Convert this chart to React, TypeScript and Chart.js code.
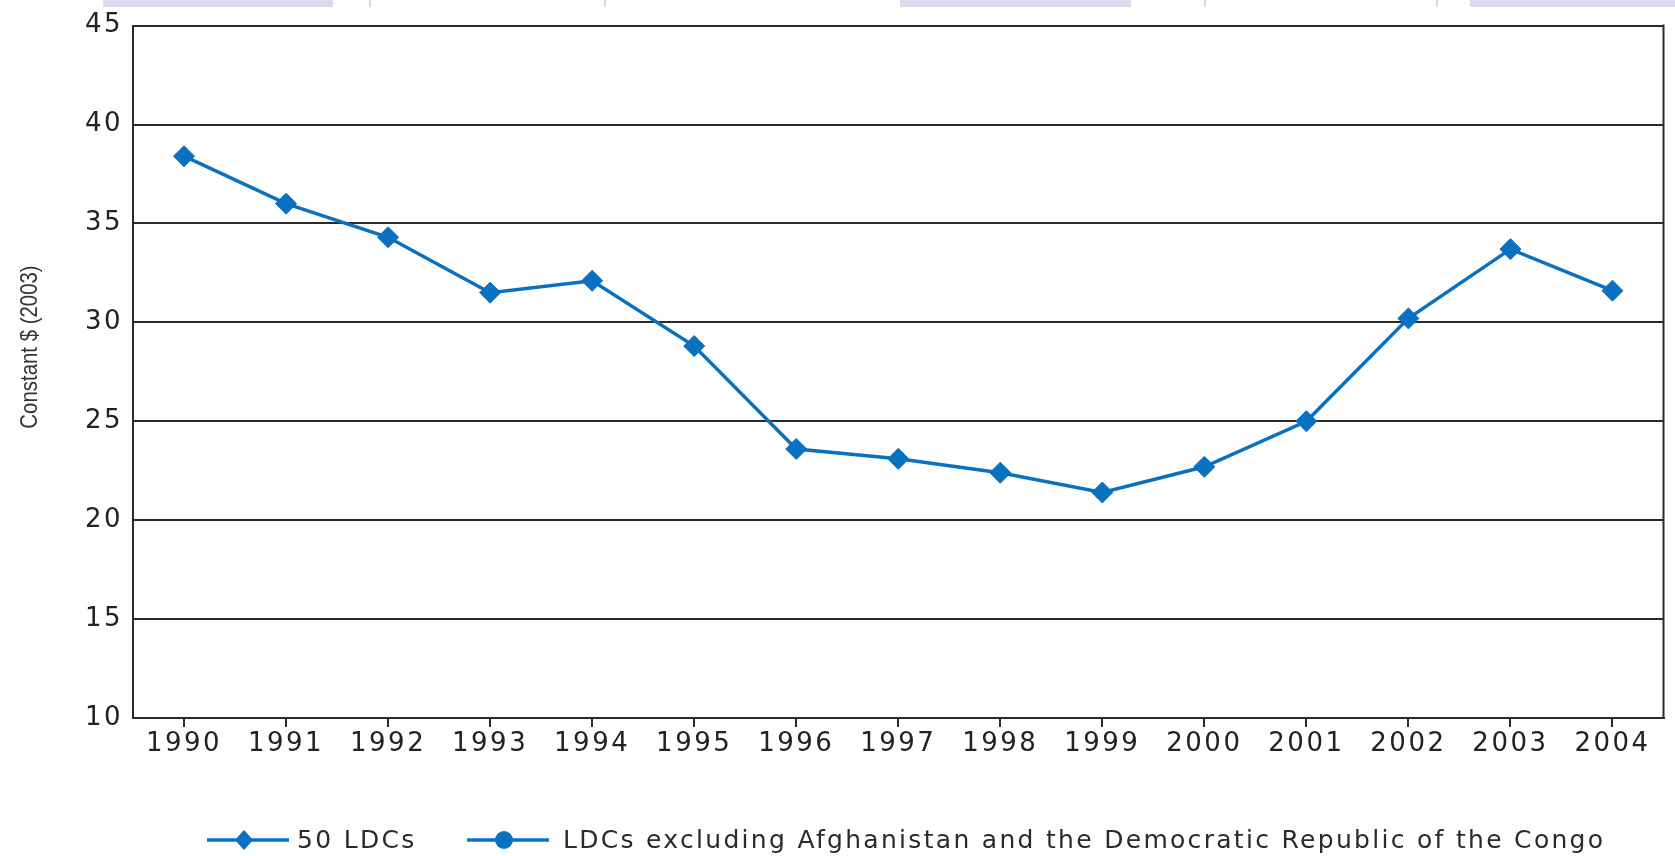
import React, { useEffect, useRef } from "react";
import { Chart, registerables } from "chart.js";

Chart.register(...registerables);

const years = ["1990", "1991", "1992", "1993", "1994", "1995", "1996", "1997", "1998", "1999", "2000", "2001", "2002", "2003", "2004"];
const ldc50 = [38.4, 36.0, 34.3, 31.5, 32.1, 28.8, 23.6, 23.1, 22.4, 21.4, 22.7, 25.0, 30.2, 33.7, 31.6];
const ldcExcluding: (number | null)[] = [null, null, null, null, null, null, null, null, null, null, null, null, null, null, null];
const seriesLabels = ["50 LDCs", "LDCs excluding Afghanistan and the Democratic Republic of the Congo"];
const yTicks = [10, 15, 20, 25, 30, 35, 40, 45];
const yTitle = "Constant $ (2003)";

const BLUE = "#0a70c0";
const INK = "#222222";
const GRID = "#2a2a2a";
const FONT = "'DejaVu Sans', Verdana, sans-serif";

const decorPlugin = {
  id: "decor",
  beforeLayout(chart: any) {
    chart.ctx.letterSpacing = "2.5px";
  },
  beforeDraw(chart: any) {
    const ctx = chart.ctx;
    ctx.save();
    ctx.fillStyle = "#ffffff";
    ctx.fillRect(0, 0, chart.width, chart.height);
    ctx.fillStyle = "#dcd9ee";
    ctx.fillRect(103, 0, 230, 7);
    ctx.fillRect(900, 0, 231, 7);
    ctx.fillRect(1470, 0, 205, 7);
    ctx.strokeStyle = "#dcd9ee";
    ctx.lineWidth = 2;
    [370, 605, 1205, 1437].forEach((x) => {
      ctx.beginPath();
      ctx.moveTo(x, 0);
      ctx.lineTo(x, 7);
      ctx.stroke();
    });
    ctx.restore();
  },
  afterDraw(chart: any) {
    const ctx = chart.ctx;
    const area = chart.chartArea;
    ctx.save();
    ctx.strokeStyle = GRID;
    ctx.lineWidth = 2;
    ctx.beginPath();
    ctx.moveTo(area.right, area.top - 1);
    ctx.lineTo(area.right, area.bottom + 1);
    ctx.stroke();

    // y-axis title, condensed along its length
    ctx.letterSpacing = "0px";
    ctx.fillStyle = "#333333";
    ctx.font = "24px 'Liberation Sans', Arial, sans-serif";
    ctx.translate(30, 347);
    ctx.rotate(-Math.PI / 2);
    ctx.scale(0.85, 1);
    ctx.textAlign = "center";
    ctx.textBaseline = "middle";
    ctx.fillText(yTitle, 0, 0);
    ctx.restore();

    ctx.save();
    const y = 840;
    const starts = [207, 467];
    const lineLens = [82, 82];
    const textStarts = [297, 563];
    chart.data.datasets.forEach((ds: any, i: number) => {
      const x0 = starts[i];
      const x1 = x0 + lineLens[i];
      ctx.strokeStyle = BLUE;
      ctx.lineWidth = 3.5;
      ctx.beginPath();
      ctx.moveTo(x0, y);
      ctx.lineTo(x1, y);
      ctx.stroke();
      const cx = (x0 + x1) / 2 - 4;
      ctx.fillStyle = BLUE;
      ctx.beginPath();
      if (ds.pointStyle === "rectRot") {
        ctx.moveTo(cx, y - 10);
        ctx.lineTo(cx + 9, y);
        ctx.lineTo(cx, y + 10);
        ctx.lineTo(cx - 9, y);
        ctx.closePath();
      } else {
        ctx.arc(cx, y, 9, 0, Math.PI * 2);
      }
      ctx.fill();
      ctx.letterSpacing = "2.3px";
      ctx.fillStyle = "#2a2a2a";
      ctx.font = "25px " + FONT;
      ctx.textAlign = "left";
      ctx.textBaseline = "middle";
      ctx.fillText(ds.label, textStarts[i], y + 1);
    });
    ctx.restore();
  },
};

export default function App() {
  const ref = useRef<HTMLCanvasElement | null>(null);

  useEffect(() => {
    if (!ref.current) return;
    const tickFont = { family: FONT, size: 26 };
    const chart = new Chart(ref.current, {
      type: "line",
      data: {
        labels: years,
        datasets: [
          {
            label: seriesLabels[0],
            data: ldc50,
            borderColor: BLUE,
            backgroundColor: BLUE,
            borderWidth: 3.5,
            pointStyle: "rectRot",
            pointRadius: 10.5,
            pointBorderWidth: 1,
            pointBackgroundColor: BLUE,
            pointBorderColor: BLUE,
            tension: 0,
          },
          {
            label: seriesLabels[1],
            data: ldcExcluding,
            borderColor: BLUE,
            backgroundColor: BLUE,
            borderWidth: 3.5,
            pointStyle: "circle",
            pointRadius: 8,
            pointBackgroundColor: BLUE,
            pointBorderColor: BLUE,
            tension: 0,
          },
        ],
      },
      options: {
        responsive: false,
        animation: false,
        layout: { padding: { left: 0, right: 5, top: 21, bottom: 0 } },
        plugins: {
          legend: { display: false },
          tooltip: { enabled: false },
          title: { display: false },
        },
        scales: {
          x: {
            type: "category",
            offset: true,
            grid: {
              display: true,
              drawOnChartArea: false,
              drawTicks: true,
              offset: false,
              tickLength: 9,
              color: GRID,
              lineWidth: 2,
            },
            border: { display: true, color: GRID, width: 2 },
            ticks: {
              font: tickFont,
              color: INK,
              padding: 2,
              maxRotation: 0,
              autoSkip: false,
            },
            afterFit: (s: any) => {
              s.height = 138;
            },
          },
          y: {
            min: 10,
            max: 45,
            afterBuildTicks: (s: any) => {
              s.ticks = yTicks.map((v) => ({ value: v }));
            },
            grid: { color: GRID, lineWidth: 2, drawTicks: false },
            border: { display: true, color: GRID, width: 2 },
            ticks: { font: tickFont, color: INK, padding: 10 },
            afterFit: (s: any) => {
              s.width = 133;
            },
          },
        },
      },
      plugins: [decorPlugin],
    } as any);
    return () => chart.destroy();
  }, []);

  return (
    <div style={{ position: "absolute", left: 0, top: 0, width: 1675, height: 856, background: "#fff" }}>
      <canvas ref={ref} width={1675} height={856} style={{ display: "block", width: 1675, height: 856 }} />
    </div>
  );
}
